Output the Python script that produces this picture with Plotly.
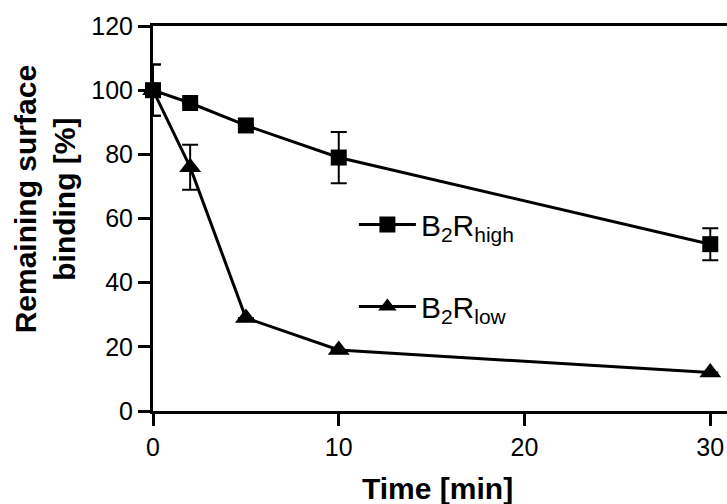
import plotly.graph_objects as go

time_min = [0, 2, 5, 10, 30]
high_vals = [100, 96, 89, 79, 52]
high_err = [8, None, None, 8, 5]
low_vals = [100, 76, 29, 19, 12]
low_err = [8, 7, None, None, None]

FONT = "Liberation Sans, Arial, sans-serif"

fig = go.Figure()
fig.add_trace(go.Scatter(
    x=time_min, y=high_vals, mode="lines+markers",
    name="B<sub>2</sub>R<sub>high</sub>", legendgroup="a",
    line=dict(color="black", width=3),
    marker=dict(symbol="square", size=16, color="black"),
    error_y=dict(type="data", array=high_err, visible=True, color="black", thickness=2, width=8),
    cliponaxis=False,
))
fig.add_trace(go.Scatter(
    x=time_min, y=low_vals, mode="lines+markers",
    name="B<sub>2</sub>R<sub>low</sub>", legendgroup="b",
    line=dict(color="black", width=3),
    marker=dict(symbol="triangle-up", size=19, color="black"),
    error_y=dict(type="data", array=low_err, visible=True, color="black", thickness=2, width=8),
    cliponaxis=False,
))

axis_common = dict(showline=True, linecolor="black", linewidth=3, ticks="outside",
                   ticklen=12, tickwidth=3, tickcolor="black", showgrid=False, zeroline=False,
                   tickfont=dict(family=FONT, size=25, color="black"))
fig.update_xaxes(range=[0, 30.9], tickvals=[0, 10, 20, 30], mirror=True, **axis_common)
fig.update_yaxes(range=[0, 120], tickvals=[0, 20, 40, 60, 80, 100, 120], **axis_common)

fig.add_annotation(text="<b>Time [min]</b>", xref="paper", yref="paper",
                   x=0.495, y=-0.2, xanchor="center", yanchor="middle", showarrow=False,
                   font=dict(family=FONT, size=30, color="black"))
fig.add_annotation(text="<b>Remaining surface<br>binding [%]</b>", xref="paper", yref="paper",
                   x=-0.188, y=0.55, xanchor="center", yanchor="middle", showarrow=False,
                   textangle=-90, font=dict(family=FONT, size=30, color="black"))

fig.update_layout(
    width=727, height=504,
    margin=dict(l=153, r=0, t=26, b=93),
    paper_bgcolor="white", plot_bgcolor="white",
    showlegend=True,
    legend=dict(x=0.35, y=0.378, xanchor="left", yanchor="middle",
                font=dict(family=FONT, size=30, color="black"),
                tracegroupgap=40, itemwidth=57, bgcolor="rgba(0,0,0,0)"),
)

fig.write_html("out.html")
